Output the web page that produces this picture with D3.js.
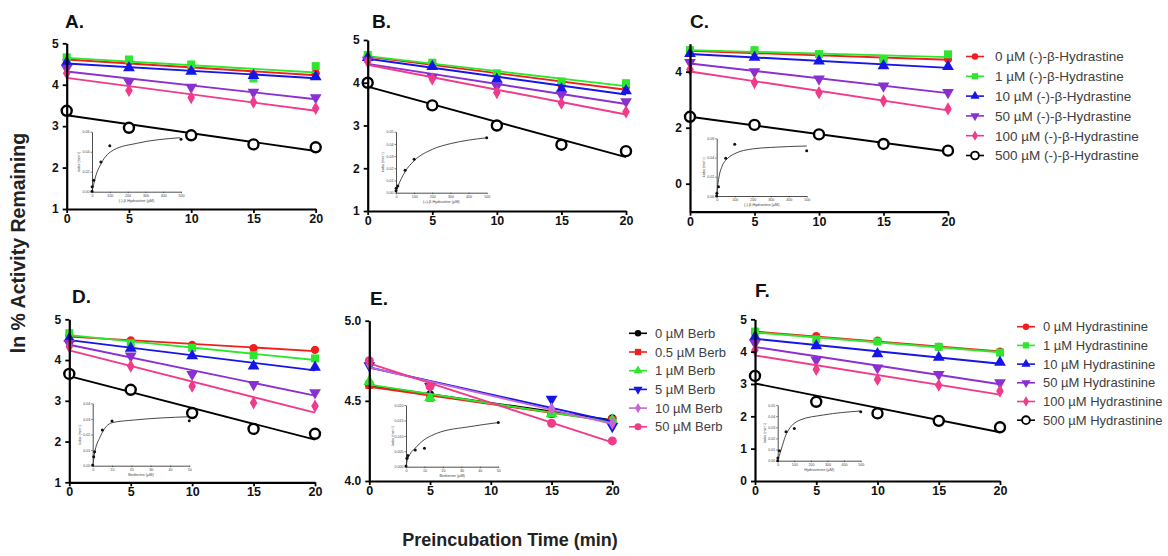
<!DOCTYPE html>
<html><head><meta charset="utf-8">
<script src="https://cdn.jsdelivr.net/npm/d3@7"></script>
<style>
body{margin:0;background:#fff}
text{font-family:"Liberation Sans",Arial,sans-serif}
</style>
</head><body>
<svg id="c" width="1168" height="556"></svg>
<script>
// ---------------- DATA ----------------
const times = [0, 5, 10, 15, 20];
const timesE = [0, 5, 15, 20];
const xTickValues = [0, 5, 10, 15, 20];

const legendHydrastine = ["0 µM (-)-β-Hydrastine", "1 µM (-)-β-Hydrastine", "10 µM (-)-β-Hydrastine",
  "50 µM (-)-β-Hydrastine", "100 µM (-)-β-Hydrastine", "500 µM (-)-β-Hydrastine"];
const legendBerb = ["0 µM Berb", "0.5 µM Berb", "1 µM Berb", "5 µM Berb", "10 µM Berb", "50 µM Berb"];
const legendHydrastinine = ["0 µM Hydrastinine", "1 µM Hydrastinine", "10 µM Hydrastinine",
  "50 µM Hydrastinine", "100 µM Hydrastinine", "500 µM Hydrastinine"];

// ln % activity remaining, one row per concentration
const panelA = [
  [4.60, 4.55, 4.42, 4.24, 4.28],
  [4.66, 4.61, 4.49, 4.15, 4.45],
  [4.54, 4.41, 4.32, 4.22, 4.19],
  [4.40, 4.07, 3.94, 3.82, 3.69],
  [4.28, 3.86, 3.69, 3.58, 3.43],
  [3.37, 2.96, 2.78, 2.56, 2.49]
];
const panelB = [
  [4.62, 4.45, 4.20, 3.95, 3.90],
  [4.65, 4.47, 4.22, 4.03, 3.99],
  [4.59, 4.38, 4.08, 3.85, 3.81],
  [4.53, 4.13, 3.92, 3.72, 3.56],
  [4.49, 4.09, 3.77, 3.52, 3.32],
  [4.00, 3.47, 3.00, 2.55, 2.40]
];
const panelC = [
  [4.72, 4.70, 4.60, 4.45, 4.45],
  [4.77, 4.77, 4.63, 4.44, 4.62],
  [4.65, 4.51, 4.38, 4.21, 4.18],
  [4.33, 4.00, 3.74, 3.49, 3.26],
  [4.08, 3.61, 3.25, 2.96, 2.67],
  [2.39, 2.10, 1.76, 1.42, 1.18]
];
const panelD = [
  [4.60, 4.48, 4.37, 4.29, 4.25],
  [4.66, 4.41, 4.30, 4.12, 4.04],
  [4.53, 4.29, 4.10, 3.85, 3.82],
  [4.41, 4.10, 3.65, 3.40, 3.20],
  [4.33, 3.85, 3.36, 2.95, 2.87],
  [3.66, 3.27, 2.70, 2.31, 2.19]
];
const panelE = [
  [4.60, 4.54, 4.42, 4.39],
  [4.60, 4.52, 4.42, 4.38],
  [4.62, 4.52, 4.42, 4.38],
  [4.72, 4.59, 4.51, 4.34],
  [4.73, 4.59, 4.45, 4.36],
  [4.75, 4.59, 4.36, 4.25]
];
const panelF = [
  [4.60, 4.48, 4.34, 4.15, 4.00],
  [4.62, 4.38, 4.31, 4.15, 3.97],
  [4.46, 4.18, 3.93, 3.82, 3.67],
  [4.26, 3.74, 3.50, 3.30, 3.04],
  [4.05, 3.45, 3.14, 2.96, 2.78],
  [3.25, 2.45, 2.09, 1.86, 1.66]
];

// inset data: kobs vs inhibitor concentration
const concHydrastine = [0, 1, 10, 50, 100, 500];
const concBerb = [0, 0.5, 1, 5, 10, 50];
const kobsA = [0.0005, 0.005, 0.0115, 0.0297, 0.046, 0.0524];
const kobsB = [0.0016, 0.0036, 0.0055, 0.0184, 0.0275, 0.0451];
const kobsC = [0.0, 0.0028, 0.0097, 0.0392, 0.0538, 0.0471];
const kobsD = [0.0004, 0.0058, 0.009, 0.0229, 0.0287, 0.0288];
const kobsE = [0.0002, 0.0027, 0.0036, 0.0054, 0.006, 0.0143];
const kobsF = [0.0, 0.0024, 0.009, 0.026, 0.029, 0.044];
// fitted curves: [conc, kobs]
const curveA = [[0,0],[5,0.0040],[20,0.0150],[52,0.0284],[121,0.0417],[252,0.0484],[494,0.0540]];
const curveB = [[0,0.001],[10,0.005],[50,0.0172],[100,0.0262],[200,0.0355],[300,0.0402],[400,0.0431],[500,0.0450]];
const curveC = [[0,0],[5,0.010],[15,0.022],[30,0.031],[60,0.039],[100,0.044],[200,0.049],[300,0.0505],[500,0.052]];
const curveD = [[0.3,0.002],[0.8,0.0069],[3.9,0.0186],[10.1,0.0276],[21.6,0.0293],[50,0.0314]];
const curveE = [[0.2,0.0004],[0.7,0.0022],[5.8,0.0065],[16.6,0.0108],[34.7,0.013],[50,0.0143]];
const curveF = [[1,0.0008],[13.9,0.0066],[54,0.0246],[134,0.0365],[274,0.041],[496,0.0446]];

// ---------------- STYLES ----------------
const RED = "#f21d1d", GREEN = "#2fe62f", BLUE = "#1515e8", PURPLE = "#8a2fd2",
      PINK = "#f03a8a", BLACK = "#000", VIOLET = "#c767d6";
const stdStyles = [
  {c: RED, s: "circle"}, {c: GREEN, s: "square"}, {c: BLUE, s: "tri"},
  {c: PURPLE, s: "triDown"}, {c: PINK, s: "diamond"}, {c: BLACK, s: "open"}
];
const eStyles = [
  {c: BLACK, s: "circle"}, {c: RED, s: "square"}, {c: GREEN, s: "tri"},
  {c: BLUE, s: "triDown"}, {c: VIOLET, s: "diamond"}, {c: PINK, s: "hex"}
];

const svg = d3.select("#c");

function marker(g, shape, color, cx, cy, scale) {
  scale = scale || 1;
  if (shape === "open") {
    g.append("circle").attr("cx", cx).attr("cy", cy).attr("r", 5 * scale)
      .attr("fill", "#fff").attr("stroke", color).attr("stroke-width", 2.4 * scale);
    return;
  }
  let type = d3.symbolCircle, size = 54, rot = 0;
  if (shape === "square") { type = d3.symbolSquare; size = 64; }
  if (shape === "tri") { type = d3.symbolTriangle; size = 60; }
  if (shape === "triDown") { type = d3.symbolTriangle; size = 60; rot = 180; }
  if (shape === "diamond") { type = d3.symbolDiamond; size = 50; }
  if (shape === "hex") { type = d3.symbolCircle; size = 64; }
  g.append("path").attr("d", d3.symbol().type(type).size(size * scale * scale)())
    .attr("transform", `translate(${cx},${cy}) rotate(${rot})`)
    .attr("fill", color);
}

function linfit(ts, ys) {
  const mt = d3.mean(ts), my = d3.mean(ys);
  let num = 0, den = 0;
  ts.forEach((t, i) => { num += (t - mt) * (ys[i] - my); den += (t - mt) * (t - mt); });
  const b = num / den;
  return {b, a: my - b * mt};
}

function styleAxis(ax, fs) {
  ax.select(".domain").attr("stroke-width", 2.2).attr("stroke", "#000");
  ax.selectAll(".tick line").attr("stroke-width", 1.8).attr("stroke", "#000");
  ax.selectAll(".tick text").attr("font-size", fs).attr("font-weight", "bold")
    .attr("fill", "#111").attr("font-family", "'Liberation Sans', Arial, sans-serif");
}

function drawInset(ins) {
  const g = svg.append("g");
  const x = d3.scaleLinear().domain(ins.xDomain).range([ins.left, ins.right]);
  const y = d3.scaleLinear().domain(ins.yDomain).range([ins.bottom, ins.top]);
  const ax = g.append("g").attr("transform", `translate(0,${ins.bottom})`)
    .call(d3.axisBottom(x).tickValues(ins.xTicks).tickSize(1.5).tickPadding(1).tickSizeOuter(0));
  const ay = g.append("g").attr("transform", `translate(${ins.left},0)`)
    .call(d3.axisLeft(y).tickValues(ins.yTicks).tickFormat(d3.format(ins.yFmt)).tickSize(1.5).tickPadding(1).tickSizeOuter(0));
  [ax, ay].forEach(a => {
    a.select(".domain").attr("stroke-width", 0.8).attr("stroke", "#222");
    a.selectAll(".tick line").attr("stroke-width", 0.6).attr("stroke", "#222");
    a.selectAll(".tick text").attr("font-size", 3.6).attr("fill", "#444");
  });
  g.append("text").attr("x", (ins.left + ins.right) / 2).attr("y", ins.bottom + 10)
    .attr("text-anchor", "middle").attr("font-size", 3.8).attr("fill", "#444").text(ins.xLabel);
  g.append("text").attr("transform", `translate(${ins.left - 12},${(ins.top + ins.bottom) / 2}) rotate(-90)`)
    .attr("text-anchor", "middle").attr("font-size", 3.8).attr("fill", "#444").text("kobs (min⁻¹)");
  g.append("path").datum(ins.curve)
    .attr("d", d3.line().x(d => x(d[0])).y(d => y(d[1])).curve(d3.curveMonotoneX))
    .attr("fill", "none").attr("stroke", "#333").attr("stroke-width", 0.9);
  ins.conc.forEach((c, i) => {
    g.append("circle").attr("cx", x(c)).attr("cy", y(ins.k[i])).attr("r", 1.5).attr("fill", "#111");
  });
}

function drawPanel(p) {
  const x = d3.scaleLinear().domain([0, 20]).range([p.x0, p.x1]);
  const y = d3.scaleLinear().domain(p.yDomain).range([p.yBot, p.yTop]);
  drawInset(p.inset);
  const g = svg.append("g");
  p.data.forEach((row, i) => {
    const st = p.styles[i];
    const f = linfit(p.times, row);
    g.append("line").attr("x1", x(0)).attr("x2", x(20))
      .attr("y1", y(f.a)).attr("y2", y(f.a + f.b * 20))
      .attr("stroke", st.c).attr("stroke-width", 1.9);
    row.forEach((v, j) => marker(g, st.s, st.c, x(p.times[j]), y(v)));
  });
  const ax = svg.append("g").attr("transform", `translate(0,${p.yBot})`)
    .call(d3.axisBottom(x).tickValues(xTickValues).tickSize(4).tickPadding(1).tickSizeOuter(0));
  styleAxis(ax, 12.5);
  const ay = svg.append("g").attr("transform", `translate(${p.x0},0)`)
    .call(d3.axisLeft(y).tickValues(p.yTicks).tickFormat(p.yFmt).tickSize(4).tickPadding(4).tickSizeOuter(0));
  styleAxis(ay, 12);
  svg.append("text").attr("x", p.lx).attr("y", p.ly).attr("font-size", 19)
    .attr("font-weight", "bold").attr("fill", "#111").text(p.label);
}

function drawLegend(labels, styles, mx, tx, y0, step, fs) {
  const g = svg.append("g");
  labels.forEach((lab, i) => {
    const yy = y0 + i * step;
    g.append("line").attr("x1", mx - 9).attr("x2", mx + 9).attr("y1", yy).attr("y2", yy)
      .attr("stroke", styles[i].c).attr("stroke-width", 1.6);
    marker(g, styles[i].s, styles[i].c, mx, yy, 0.78);
    g.append("text").attr("x", tx).attr("y", yy).attr("dy", "0.36em")
      .attr("font-size", fs).attr("fill", "#404040").text(lab);
  });
}

const fmtInt = d3.format("d");
const yk = [0, 0.02, 0.04, 0.06];

drawPanel({label: "A.", lx: 65, ly: 28, x0: 66.7, x1: 315.7, yTop: 43.3, yBot: 209,
  yDomain: [1, 5], yTicks: [1, 2, 3, 4, 5], yFmt: fmtInt, data: panelA, times: times, styles: stdStyles,
  inset: {left: 92, right: 181, top: 131.7, bottom: 191.7, xDomain: [0, 500], yDomain: [0, 0.06],
    xTicks: [0, 100, 200, 300, 400, 500], yTicks: yk, yFmt: ".2f",
    xLabel: "(-)-β-Hydrastine (µM)", conc: concHydrastine, k: kobsA, curve: curveA}});

drawPanel({label: "B.", lx: 372, ly: 28, x0: 367.7, x1: 626, yTop: 40, yBot: 211,
  yDomain: [1, 5], yTicks: [1, 2, 3, 4, 5], yFmt: fmtInt, data: panelB, times: times, styles: stdStyles,
  inset: {left: 396, right: 486.7, top: 131.7, bottom: 192.7, xDomain: [0, 500], yDomain: [0, 0.05],
    xTicks: [0, 100, 200, 300, 400, 500], yTicks: [0, 0.01, 0.02, 0.03, 0.04, 0.05], yFmt: ".2f",
    xLabel: "(+)-β-Hydrastine (µM)", conc: concHydrastine, k: kobsB, curve: curveB}});

drawPanel({label: "C.", lx: 690, ly: 28, x0: 690, x1: 948, yTop: 43.7, yBot: 211.7,
  yDomain: [-1, 5], yTicks: [0, 2, 4], yFmt: fmtInt, data: panelC, times: times, styles: stdStyles,
  inset: {left: 716.7, right: 806.7, top: 138.3, bottom: 196, xDomain: [0, 500], yDomain: [0, 0.06],
    xTicks: [0, 100, 200, 300, 400, 500], yTicks: yk, yFmt: ".2f",
    xLabel: "(-)-β-Hydrastine (µM)", conc: concHydrastine, k: kobsC, curve: curveC}});

drawPanel({label: "D.", lx: 72, ly: 303, x0: 69.3, x1: 315, yTop: 319.3, yBot: 482.3,
  yDomain: [1, 5], yTicks: [1, 2, 3, 4, 5], yFmt: fmtInt, data: panelD, times: times, styles: stdStyles,
  inset: {left: 92.7, right: 189.3, top: 403.3, bottom: 465.7, xDomain: [0, 50], yDomain: [0, 0.04],
    xTicks: [0, 10, 20, 30, 40, 50], yTicks: [0, 0.01, 0.02, 0.03, 0.04], yFmt: ".2f",
    xLabel: "Berberine (µM)", conc: concBerb, k: kobsD, curve: curveD}});

drawPanel({label: "E.", lx: 370, ly: 305, x0: 369.3, x1: 612.3, yTop: 320.7, yBot: 481,
  yDomain: [4, 5], yTicks: [4, 4.5, 5], yFmt: d3.format(".1f"), data: panelE, times: timesE, styles: eStyles,
  inset: {left: 406, right: 498.3, top: 405, bottom: 466.7, xDomain: [0, 50], yDomain: [0, 0.02],
    xTicks: [0, 10, 20, 30, 40, 50], yTicks: [0, 0.005, 0.01, 0.015, 0.02], yFmt: ".3f",
    xLabel: "Berberine (µM)", conc: concBerb, k: kobsE, curve: curveE}});

drawPanel({label: "F.", lx: 755, ly: 297, x0: 755, x1: 1000, yTop: 319.3, yBot: 481,
  yDomain: [0, 5], yTicks: [0, 1, 2, 3, 4, 5], yFmt: fmtInt, data: panelF, times: times, styles: stdStyles,
  inset: {left: 777.7, right: 860.7, top: 405, bottom: 460.7, xDomain: [0, 500], yDomain: [0, 0.05],
    xTicks: [0, 100, 200, 300, 400, 500], yTicks: [0, 0.01, 0.02, 0.03, 0.04, 0.05], yFmt: ".2f",
    xLabel: "Hydrastinine (µM)", conc: concHydrastine, k: kobsF, curve: curveF}});

drawLegend(legendHydrastine, stdStyles, 975, 995, 56.5, 19.8, 13.5);
drawLegend(legendBerb, eStyles, 638, 655, 333.3, 18.7, 13);
drawLegend(legendHydrastinine, stdStyles, 1026, 1043, 326.7, 18.7, 13);

svg.append("text").attr("transform", "translate(25,243) rotate(-90)").attr("text-anchor", "middle")
  .attr("font-size", 19.5).attr("font-weight", "bold").attr("fill", "#222").text("ln % Activity Remaining");
svg.append("text").attr("x", 510).attr("y", 546).attr("text-anchor", "middle")
  .attr("font-size", 18).attr("font-weight", "bold").attr("fill", "#222").text("Preincubation Time (min)");
</script>
</body></html>
